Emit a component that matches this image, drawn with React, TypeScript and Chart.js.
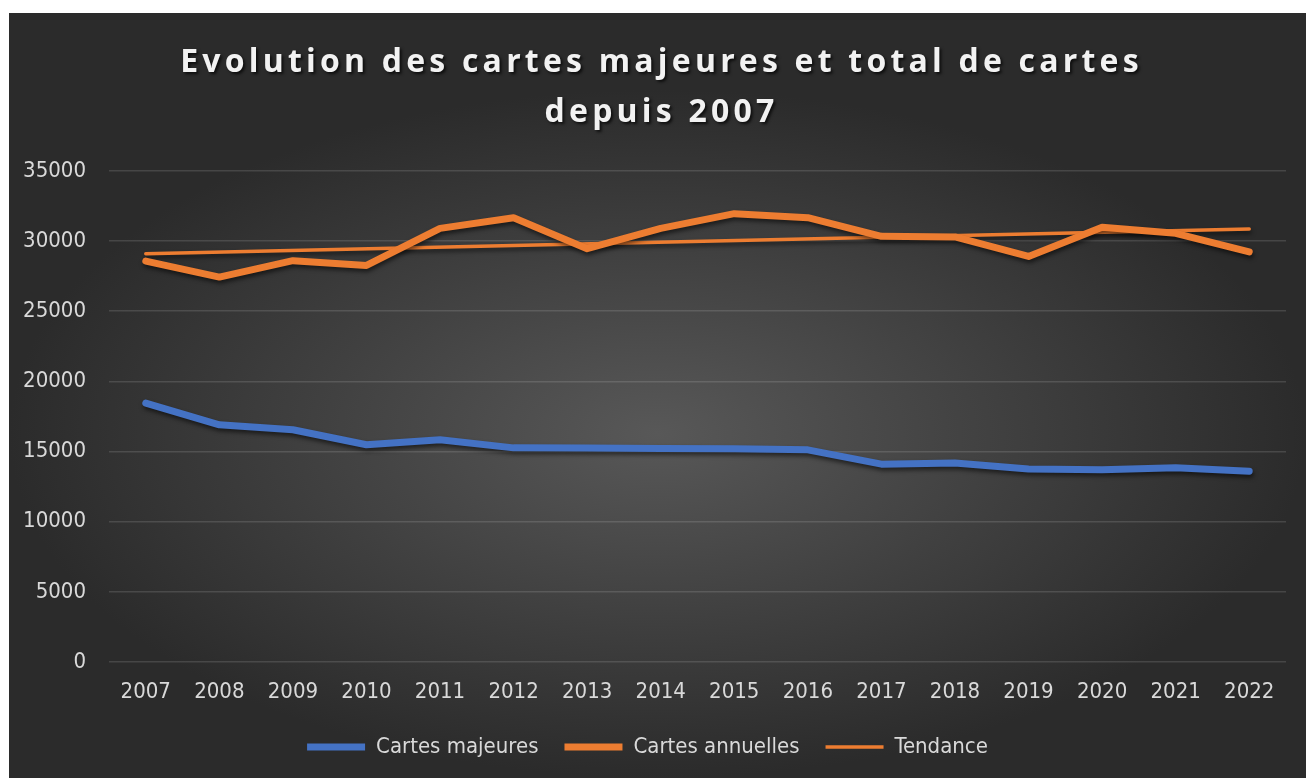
import React, { useEffect, useRef } from "react";
import { Chart, registerables } from "chart.js";

Chart.register(...registerables);

const years = ["2007", "2008", "2009", "2010", "2011", "2012", "2013", "2014", "2015", "2016", "2017", "2018", "2019", "2020", "2021", "2022"];
const cartesMajeures = [18450, 16900, 16550, 15480, 15840, 15260, 15250, 15220, 15200, 15120, 14100, 14180, 13750, 13700, 13850, 13600];
const cartesAnnuelles = [28570, 27430, 28600, 28260, 30900, 31660, 29450, 30900, 31950, 31660, 30330, 30290, 28900, 30980, 30550, 29220];
const tendance = [29100, null, null, null, null, null, null, null, null, null, null, null, null, null, null, 30860];
const yTickValues = [0, 5000, 10000, 15000, 20000, 25000, 30000, 35000];
const titleLines = ["Evolution des cartes majeures et total de cartes", "depuis 2007"];

const TICK_FONT = "'Liberation Sans Narrow', 'DejaVu Sans Condensed', 'Roboto', sans-serif";

const stylePlugin = {
  id: "styleExtras",
  beforeDraw(chart: any) {
    const tb = chart.titleBlock;
    if (tb && !tb.__patched) {
      const orig = tb.draw.bind(tb);
      tb.draw = (...args: any[]) => {
        const ctx = chart.ctx;
        ctx.save();
        ctx.translate(14, 1);
        ctx.letterSpacing = "4.2px";
        ctx.shadowColor = "rgba(0,0,0,0.7)";
        ctx.shadowOffsetX = 2;
        ctx.shadowOffsetY = 2;
        ctx.shadowBlur = 3;
        orig(...args);
        ctx.restore();
      };
      tb.__patched = true;
    }
  },
  beforeDatasetsDraw(chart: any) {
    const ctx = chart.ctx;
    ctx.save();
    ctx.shadowColor = "rgba(0,0,0,0.55)";
    ctx.shadowOffsetX = 1;
    ctx.shadowOffsetY = 3;
    ctx.shadowBlur = 4;
  },
  afterDatasetsDraw(chart: any) {
    chart.ctx.restore();
  },
};

export default function App() {
  const canvasRef = useRef<HTMLCanvasElement | null>(null);

  useEffect(() => {
    if (!canvasRef.current) return;
    const chart = new Chart(canvasRef.current, {
      type: "line",
      data: {
        labels: years,
        datasets: [
          {
            label: "Cartes majeures",
            data: cartesMajeures,
            borderColor: "#4472C4",
            backgroundColor: "#4472C4",
            borderWidth: 7,
            borderCapStyle: "round",
            borderJoinStyle: "round",
            pointRadius: 0,
            tension: 0,
          },
          {
            label: "Cartes annuelles",
            data: cartesAnnuelles,
            borderColor: "#ED7D31",
            backgroundColor: "#ED7D31",
            borderWidth: 7,
            borderCapStyle: "round",
            borderJoinStyle: "round",
            pointRadius: 0,
            tension: 0,
          },
          {
            label: "Tendance",
            data: tendance,
            borderColor: "#ED7D31",
            backgroundColor: "#ED7D31",
            borderWidth: 3.5,
            borderCapStyle: "round",
            pointRadius: 0,
            spanGaps: true,
          },
        ],
      },
      options: {
        animation: false,
        responsive: false,
        maintainAspectRatio: false,
        layout: { padding: { left: 0, right: 20, top: 0, bottom: 10 } },
        plugins: {
          title: {
            display: true,
            text: titleLines,
            color: "#f2f2f2",
            font: { family: "'Open Sans', sans-serif", size: 32, weight: "bold", lineHeight: 1.56 },
            padding: { top: 24, bottom: 34 },
          },
          legend: {
            position: "bottom",
            labels: {
              color: "#d9d9d9",
              font: { family: TICK_FONT, size: 22 },
              usePointStyle: true,
              pointStyle: "line",
              pointStyleWidth: 58,
              boxHeight: 8,
              padding: 26,
            },
          },
          tooltip: { enabled: false },
        },
        scales: {
          x: {
            offset: true,
            grid: { display: false, drawTicks: false },
            border: { display: false },
            ticks: { color: "#d9d9d9", font: { family: TICK_FONT, size: 22 }, padding: 17, maxRotation: 0 },
            afterFit: (axis: any) => {
              axis.height = 48;
            },
          },
          y: {
            min: 0,
            max: 35000,
            afterBuildTicks: (axis: any) => {
              axis.ticks = yTickValues.map((v) => ({ value: v }));
            },
            afterFit: (axis: any) => {
              axis.width = 100;
            },
            grid: { color: "rgba(255,255,255,0.13)", lineWidth: 1.5, drawTicks: false },
            border: { display: false },
            ticks: {
              color: "#d9d9d9",
              font: { family: TICK_FONT, size: 22 },
              padding: 23,
              callback: (v: any) => String(v),
            },
          },
        },
      },
      plugins: [stylePlugin],
    });
    return () => chart.destroy();
  }, []);

  return (
    <div
      style={{
        position: "absolute",
        left: 9,
        top: 13,
        width: 1297,
        height: 765,
        background: "radial-gradient(ellipse closest-side at 50% 55%, #585858 0%, #2b2b2b 100%)",
        backgroundColor: "#2b2b2b",
      }}
    >
      <canvas ref={canvasRef} width={1297} height={765} style={{ display: "block" }} />
    </div>
  );
}
